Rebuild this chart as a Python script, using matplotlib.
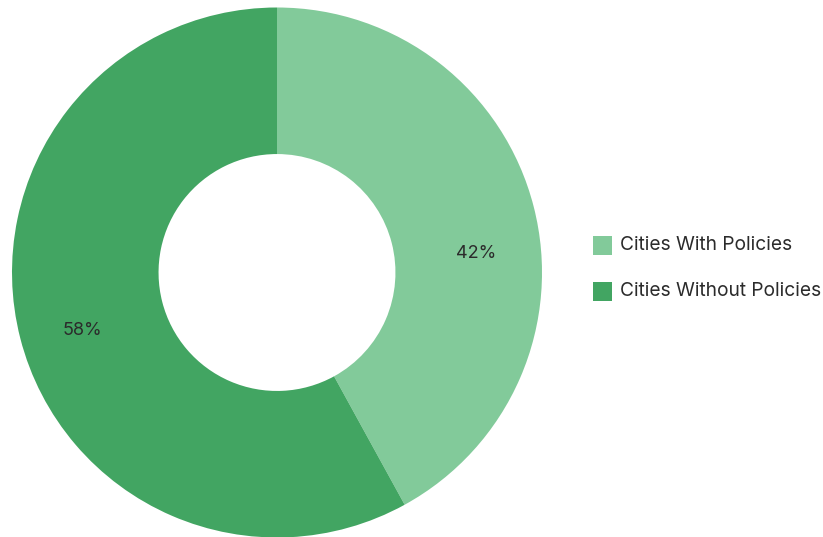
import matplotlib.pyplot as plt
from matplotlib.patches import Rectangle
import numpy as np

# Dados do gráfico
categories = ['Cities With Policies', 'Cities Without Policies']
values = [42, 58]
colors = ['#82ca9a', '#42a562']

plt.rcParams['font.family'] = ['Inter', 'DejaVu Sans']

W, H = 823, 537
fig = plt.figure(figsize=(W / 100, H / 100), dpi=100)

# Área do donut (centro ~ (277, 272) px, raio ~265 px)
cx, cy, r = 277, 272.5, 265
ax = fig.add_axes([(cx - r) / W, (H - cy - r) / H, 2 * r / W, 2 * r / H])
wedges, _ = ax.pie(values, colors=colors, startangle=90, counterclock=False,
                   radius=1, wedgeprops=dict(width=0.553, linewidth=0))
ax.set_xlim(-1, 1)
ax.set_ylim(-1, 1)
ax.set_aspect('equal')
ax.axis('off')

# Rótulos de porcentagem
label_pos = [(0.75, 0.07), (-0.736, -0.22)]
for v, (x, y) in zip(values, label_pos):
    ax.text(x, y, f'{v}%', ha='center', va='center', fontsize=13, color='#2b2b2b')

# Legenda manual
legend_y = [245, 291]
for cat, col, y in zip(categories, colors, legend_y):
    fig.patches.append(Rectangle((593 / W, (H - y - 9.5) / H), 19 / W, 19 / H,
                                 transform=fig.transFigure, facecolor=col, edgecolor='none'))
    fig.text(620 / W, (H - y) / H, cat, ha='left', va='center', fontsize=13.8, color='#2b2b2b')

fig.savefig('out.png', dpi=100)
